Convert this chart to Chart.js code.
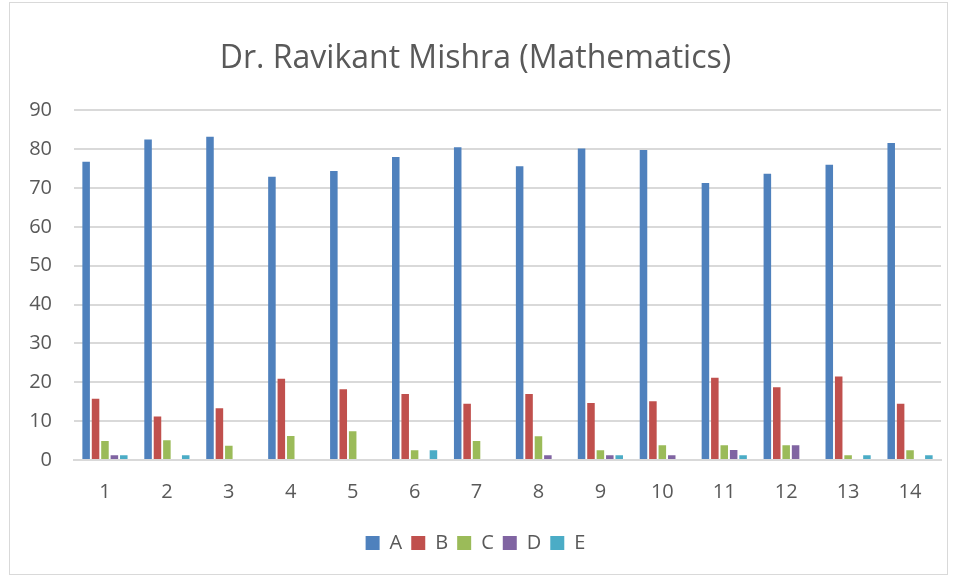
<!DOCTYPE html>
<html>
<head>
<meta charset="utf-8">
<script src="https://cdn.jsdelivr.net/npm/chart.js@4/dist/chart.umd.min.js"></script>
<style>
  html, body { margin: 0; padding: 0; background: #fff; }
  #wrap { position: relative; width: 957px; height: 576px; }
</style>
</head>
<body>
<div id="wrap"><canvas id="chart" width="957" height="576"></canvas></div>
<script>
let categories = ['1', '2', '3', '4', '5', '6', '7', '8', '9', '10', '11', '12', '13', '14']
let seriesA = [76.8, 82.5, 83.2, 72.9, 74.4, 78.0, 80.5, 75.6, 80.2, 79.8, 71.3, 73.7, 76.0, 81.6]
let seriesB = [15.8, 11.2, 13.3, 20.9, 18.2, 17.0, 14.5, 17.0, 14.7, 15.1, 21.2, 18.7, 21.5, 14.5]
let seriesC = [4.9, 5.1, 3.7, 6.2, 7.4, 2.5, 4.9, 6.1, 2.5, 3.8, 3.8, 3.8, 1.2, 2.5]
let seriesD = [1.2, 0, 0, 0, 0, 0, 0, 1.2, 1.2, 1.2, 2.6, 3.8, 0, 0]
let seriesE = [1.2, 1.2, 0, 0, 0, 2.5, 0, 0, 1.2, 0, 1.2, 0, 1.2, 1.2]
let seriesNames = ['A', 'B', 'C', 'D', 'E']
let yTicks = [0, 10, 20, 30, 40, 50, 60, 70, 80, 90]

let Colors = ['#4f81bd', '#c0504d', '#9bbb59', '#8064a2', '#4bacc6']
let textColor = '#595959'
let fontFamily = '"Open Sans", "Liberation Sans", sans-serif'

// light frame around the whole chart, like the spreadsheet export
let frame = {
  id: 'frame',
  beforeDraw (chart) {
    let ctx = chart.ctx
    ctx.save()
    ctx.fillStyle = '#fff'
    ctx.fillRect(0, 0, chart.width, chart.height)
    ctx.strokeStyle = '#d9d9d9'
    ctx.lineWidth = 1
    ctx.strokeRect(9.5, 2.5, chart.width - 19, chart.height - 4)
    ctx.restore()
  }
}

let all = [seriesA, seriesB, seriesC, seriesD, seriesE]

new Chart(document.getElementById('chart'), {
  type: 'bar',
  data: {
    labels: categories,
    datasets: all.map((values, i) => {
      return {
        label: seriesNames[i],
        data: values.map(v => v === 0 ? null : v),
        backgroundColor: Colors[i],
        borderWidth: 0,
        barPercentage: 0.8,
        categoryPercentage: 0.76
      }
    })
  },
  options: {
    responsive: false,
    animation: false,
    devicePixelRatio: 1,
    layout: {
      padding: { left: 10, right: 16, top: 0, bottom: 13 }
    },
    plugins: {
      title: {
        display: true,
        text: 'Dr. Ravikant Mishra (Mathematics)',
        color: textColor,
        font: { family: fontFamily, size: 32, weight: 'normal' },
        padding: { top: 40, bottom: 32 }
      },
      legend: {
        position: 'bottom',
        labels: {
          color: textColor,
          font: { family: fontFamily, size: 20 },
          boxWidth: 14,
          boxHeight: 14,
          padding: 9
        }
      },
      tooltip: { enabled: false }
    },
    scales: {
      x: {
        grid: { display: false, drawTicks: false },
        border: { color: '#d9d9d9', width: 2 },
        ticks: {
          color: textColor,
          font: { family: fontFamily, size: 20 },
          padding: 20
        }
      },
      y: {
        min: 0,
        max: 90,
        afterBuildTicks (scale) {
          scale.ticks = yTicks.map(v => ({ value: v }))
        },
        afterFit (scale) {
          scale.width = 64
        },
        grid: { color: '#d9d9d9', lineWidth: 2, drawTicks: false },
        border: { display: false },
        ticks: {
          color: textColor,
          font: { family: fontFamily, size: 20 },
          padding: 22
        }
      }
    }
  },
  plugins: [frame]
})
</script>
</body>
</html>
